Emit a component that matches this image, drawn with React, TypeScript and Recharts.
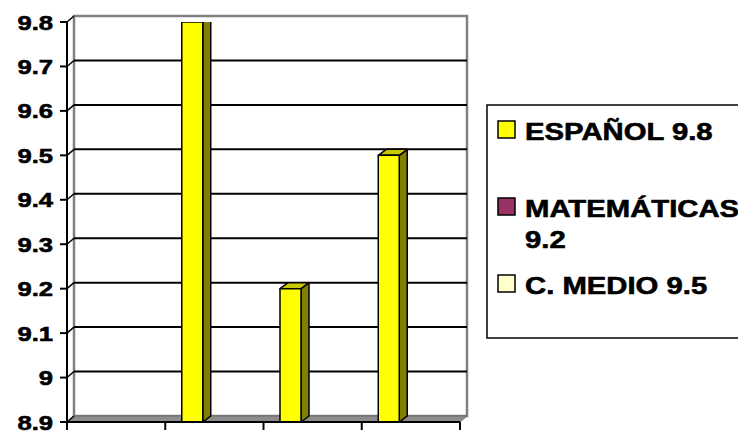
import { Bar, BarChart, CartesianGrid, XAxis, YAxis } from 'recharts'

const categories = ['', 'ESPAÑOL', 'MATEMÁTICAS', 'C. MEDIO']
const scores: (number | null)[] = [null, 9.8, 9.2, 9.5]
const yTicks = [8.9, 9, 9.1, 9.2, 9.3, 9.4, 9.5, 9.6, 9.7, 9.8]
const legendLabels = [['ESPAÑOL 9.8'], ['MATEMÁTICAS', '9.2'], ['C. MEDIO 9.5']]
const legendColors = ['#FFFF00', '#993366', '#FFFFCC']

const W = 738
const H = 436
const MARGIN = { top: 22, right: 278, bottom: 0, left: 0 }
const X_AXIS_H = 14
const Y_AXIS_W = 67
const PLOT_W = W - MARGIN.right - Y_AXIS_W
const PLOT_TOP = MARGIN.top
const PLOT_BOTTOM = H - MARGIN.bottom - X_AXIS_H
const DX = 7
const DY = 6
const BAR_SHIFT = -22.5
const FONT = "'Liberation Sans', Arial, sans-serif"
const STRETCH = 1.22

const data = categories.map((name, i) => ({ name, score: scores[i] }))

// back wall, floor and gridlines, pushed back by the 3D depth
const gridLine = (p: any) => {
  const { x1, x2, y1 } = p
  if (Math.abs(y1 - PLOT_BOTTOM) < 1) {
    return (
      <g key={p.key}>
        <rect
          x={x1 + DX}
          y={PLOT_TOP - DY}
          width={x2 - x1}
          height={PLOT_BOTTOM - PLOT_TOP}
          fill='none'
          stroke='#808080'
          strokeWidth={2.5}
        />
        <polygon
          points={`${x1},${PLOT_BOTTOM} ${x1 + DX},${PLOT_BOTTOM - DY} ${x2 + DX},${PLOT_BOTTOM - DY} ${x2},${PLOT_BOTTOM}`}
          fill='#8c8c8c'
          stroke='#6e6e6e'
          strokeWidth={1}
        />
      </g>
    )
  }
  if (Math.abs(y1 - PLOT_TOP) < 1) return <g key={p.key} />
  return <line key={p.key} x1={x1 + DX} y1={y1 - DY} x2={x2 + DX} y2={y1 - DY} stroke='#000' strokeWidth={2} />
}

const YTick = ({ x, y, payload }: any) => (
  <g>
    <line x1={x - 7} y1={y} x2={x} y2={y} stroke='#000' strokeWidth={2} />
    <line x1={x} y1={y} x2={x + DX} y2={y - DY} stroke='#000' strokeWidth={1.5} />
    <text
      transform={`translate(${x - 14},${y + 7.5}) scale(${STRETCH},1)`}
      textAnchor='end'
      fontFamily={FONT}
      fontWeight='bold'
      fontSize={21}
      fill='#000'
      stroke='#000'
      strokeWidth={0.6}
    >
      {payload.value}
    </text>
  </g>
)

const XTick = ({ x, y, index }: any) => {
  const band = PLOT_W / categories.length
  return (
    <g>
      <line x1={x - band / 2} y1={y} x2={x - band / 2} y2={y + 8} stroke='#000' strokeWidth={2} />
      {index === categories.length - 1 && (
        <line x1={x + band / 2} y1={y} x2={x + band / 2} y2={y + 8} stroke='#000' strokeWidth={2} />
      )}
    </g>
  )
}

const Column3D = ({ x, y, width, height }: any) => {
  if (!height || height <= 0) return null
  const fx = x + BAR_SHIFT
  const d = DX + 1
  const b = y + height
  return (
    <g stroke='#000' strokeWidth={1.5} strokeLinejoin='round'>
      <polygon points={`${fx + width},${y} ${fx + width + d},${y - DY} ${fx + width + d},${b - DY} ${fx + width},${b}`} fill='#808000' />
      <polygon points={`${fx},${y} ${fx + d},${y - DY} ${fx + width + d},${y - DY} ${fx + width},${y}`} fill='#C8C800' />
      <rect x={fx} y={y} width={width} height={height} fill='#FFFF00' />
    </g>
  )
}

const legendRows = [140, 217, 294]

export default function App() {
  return (
    <div style={{ position: 'absolute', left: 0, top: 0, width: W, height: H, overflow: 'hidden', background: '#fff' }}>
      <BarChart width={W} height={H} data={data} margin={MARGIN}>
        <CartesianGrid horizontal={gridLine} vertical={false} />
        <XAxis
          dataKey='name'
          interval={0}
          tickSize={0}
          tickMargin={0}
          tickLine={false}
          tick={<XTick />}
          axisLine={{ stroke: '#000', strokeWidth: 2 }}
          height={X_AXIS_H}
        />
        <YAxis
          type='number'
          domain={[8.9, 9.8]}
          ticks={yTicks}
          interval={0}
          allowDataOverflow
          width={Y_AXIS_W}
          tickSize={0}
          tickMargin={0}
          tickLine={false}
          tick={<YTick />}
          axisLine={{ stroke: '#000', strokeWidth: 2 }}
        />
        <Bar dataKey='score' barSize={21} shape={<Column3D />} isAnimationActive={false} />
      </BarChart>
      <svg width={W} height={H} style={{ position: 'absolute', left: 0, top: 0, pointerEvents: 'none' }}>
        <rect x={487} y={105} width={300} height={233} fill='#fff' stroke='#000' strokeWidth={1.5} />
        {legendLabels.map((lines, i) => (
          <g key={i}>
            <rect x={498} y={legendRows[i] - 19} width={17} height={17} fill={legendColors[i]} stroke='#000' strokeWidth={1.5} />
            {lines.map((t, j) => (
              <text
                key={j}
                transform={`translate(525,${legendRows[i] + j * 31}) scale(${STRETCH},1)`}
                fontFamily={FONT}
                fontWeight='bold'
                fontSize={24}
                fill='#000'
                stroke='#000'
                strokeWidth={0.6}
              >
                {t}
              </text>
            ))}
          </g>
        ))}
      </svg>
    </div>
  )
}
